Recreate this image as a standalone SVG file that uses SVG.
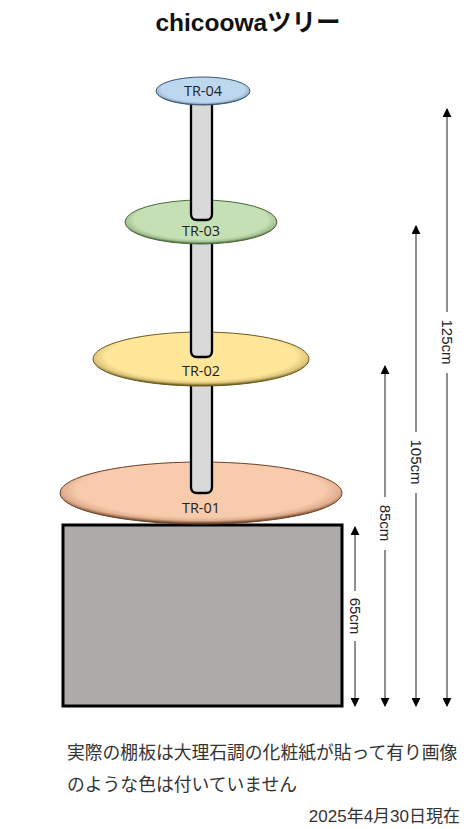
<svg xmlns="http://www.w3.org/2000/svg" width="466" height="829" viewBox="0 0 466 829">
<style>
.title{font-family:"Liberation Sans","Noto Sans CJK JP",sans-serif;font-weight:bold;font-size:24.5px;fill:#111;}
.lbl{font-family:"Open Sans","Liberation Sans",sans-serif;font-size:14.5px;fill:#222;text-anchor:middle;}
.dim{font-family:"Liberation Sans",sans-serif;font-size:15px;fill:#222;text-anchor:middle;}
.note{font-family:"Noto Sans CJK JP",sans-serif;font-size:17.8px;fill:#333;}
.date{font-family:"Liberation Sans","Noto Sans CJK JP",sans-serif;font-size:17px;fill:#333;text-anchor:end;}
.pillar{fill:#D9D9D9;stroke:#000;stroke-width:2.3;}
.dline{stroke:#444;stroke-width:1.2;fill:none;}
</style>
<defs>
<marker id="ah" viewBox="0 0 10 10" refX="9" refY="5" markerWidth="9" markerHeight="9" markerUnits="userSpaceOnUse" orient="auto-start-reverse">
<path d="M0,0 L10,5 L0,10 Z" fill="#000"/>
</marker>
<radialGradient id="g1" cx="50%" cy="45%" r="55%">
<stop offset="0" stop-color="#F8CBAD"/><stop offset="0.8" stop-color="#F8CBAD"/><stop offset="0.9" stop-color="#E0AE8E"/><stop offset="1" stop-color="#5a3418"/>
</radialGradient>
<radialGradient id="g2" cx="50%" cy="45%" r="55%">
<stop offset="0" stop-color="#FFE699"/><stop offset="0.8" stop-color="#FFE699"/><stop offset="0.9" stop-color="#E0C87E"/><stop offset="1" stop-color="#5a4c14"/>
</radialGradient>
<radialGradient id="g3" cx="50%" cy="45%" r="55%">
<stop offset="0" stop-color="#C5E0B4"/><stop offset="0.8" stop-color="#C5E0B4"/><stop offset="0.9" stop-color="#A8C496"/><stop offset="1" stop-color="#3c5a2c"/>
</radialGradient>
<radialGradient id="g4" cx="50%" cy="45%" r="55%">
<stop offset="0" stop-color="#BDD7EE"/><stop offset="0.8" stop-color="#BDD7EE"/><stop offset="0.9" stop-color="#9EBAD4"/><stop offset="1" stop-color="#2c4a66"/>
</radialGradient>
</defs>
<rect width="466" height="829" fill="#fff"/>
<text class="title" x="248" y="31" text-anchor="middle">chicoowaツリー</text>

<g id="base"><rect x="63" y="525" width="279" height="181" fill="#AEAAAA" stroke="#000" stroke-width="3"/></g>

<g id="tr01"><ellipse cx="201" cy="493" rx="141" ry="31" fill="url(#g1)" stroke="#6b4328" stroke-width="1"/></g>
<g id="pillar3"><path class="pillar" d="M191,380 V487 Q191,493 197,493 H206 Q212,493 212,487 V380"/></g>
<text class="lbl" x="201" y="513">TR-01</text>

<g id="tr02"><ellipse cx="201" cy="359" rx="108" ry="27" fill="url(#g2)" stroke="#6b5c20" stroke-width="1"/></g>
<g id="pillar2"><path class="pillar" d="M191,240 V351 Q191,357 197,357 H206 Q212,357 212,351 V240"/></g>
<text class="lbl" x="201" y="376">TR-02</text>

<g id="tr03"><ellipse cx="201" cy="222" rx="76" ry="22" fill="url(#g3)" stroke="#4c6a3c" stroke-width="1"/></g>
<g id="pillar1"><path class="pillar" d="M191,98 V214 Q191,220 197,220 H206 Q212,220 212,214 V98"/></g>
<text class="lbl" x="201" y="236">TR-03</text>

<g id="tr04"><ellipse cx="203" cy="91" rx="47" ry="14" fill="url(#g4)" stroke="#3c5a78" stroke-width="1"/>
<text class="lbl" x="203" y="96">TR-04</text></g>

<g id="connectors">
<line class="dline" x1="355" y1="527" x2="355" y2="591" marker-start="url(#ah)"/>
<line class="dline" x1="355" y1="641" x2="355" y2="706" marker-end="url(#ah)"/>
<line class="dline" x1="385" y1="366" x2="385" y2="497" marker-start="url(#ah)"/>
<line class="dline" x1="385" y1="550" x2="385" y2="706" marker-end="url(#ah)"/>
<line class="dline" x1="416" y1="226" x2="416" y2="432" marker-start="url(#ah)"/>
<line class="dline" x1="416" y1="493" x2="416" y2="706" marker-end="url(#ah)"/>
<line class="dline" x1="447" y1="109" x2="447" y2="312" marker-start="url(#ah)"/>
<line class="dline" x1="447" y1="373" x2="447" y2="706" marker-end="url(#ah)"/>
</g>
<g id="dimlabels">
<text class="dim" transform="translate(350,616) rotate(90)">65cm</text>
<text class="dim" transform="translate(380,523) rotate(90)">85cm</text>
<text class="dim" transform="translate(411,462) rotate(90)">105cm</text>
<text class="dim" transform="translate(442,342) rotate(90)">125cm</text>
</g>

<text class="note" x="67" y="759">実際の棚板は大理石調の化粧紙が貼って有り画像</text>
<text class="note" x="67" y="791">のような色は付いていません</text>
<text class="date" x="460" y="822">2025年4月30日現在</text>
</svg>
